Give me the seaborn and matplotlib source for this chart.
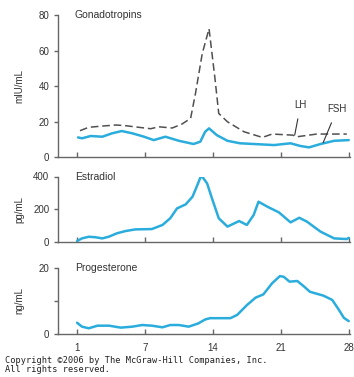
import matplotlib
matplotlib.use('Agg')
import matplotlib.pyplot as plt
import seaborn as sns

# x positions are evenly spaced cycle-day positions (tick labels 1, 7, 14, 21, 28)
lh_day = [0.3, 1.2, 2.6, 4.0, 5.0, 6.35, 7.6, 8.4, 9.8, 10.8, 11.7, 12.2, 12.9, 13.6,
          14.2, 14.6, 15.5, 17.2, 19.1, 20.1, 22.2, 22.7, 24.7, 27.8]
lh_val = [15.1, 17.0, 17.7, 18.3, 17.9, 17.0, 16.2, 17.3, 16.6, 18.8, 22.0, 36.0, 58.5, 72.5,
          45.0, 24.8, 20.1, 14.5, 11.3, 13.2, 12.6, 11.7, 13.2, 13.2]

fsh_day = [0.1, 0.5, 1.4, 2.6, 3.6, 4.6, 5.7, 6.9, 7.9, 9.1, 10.5, 12.0, 12.7, 13.2, 13.6,
           14.4, 15.5, 16.8, 18.2, 20.3, 22.0, 23.0, 23.9, 25.1, 26.5, 28.0]
fsh_val = [11.3, 10.8, 12.1, 11.7, 13.6, 14.9, 13.6, 11.7, 9.8, 11.7, 9.4, 7.6, 8.9, 14.5, 16.4,
           12.6, 9.4, 8.0, 7.6, 7.0, 8.0, 6.5, 5.7, 7.6, 9.4, 9.8]

e2_day = [0.0, 0.5, 1.2, 1.9, 2.6, 3.3, 4.1, 5.0, 6.0, 7.7, 8.8, 9.6, 10.3, 11.2, 11.9, 12.4,
          12.7, 12.9, 13.4, 13.9, 14.6, 15.5, 16.7, 17.5, 18.2, 18.7, 19.6, 20.8, 22.0, 22.9,
          23.7, 25.1, 26.5, 27.8, 28.0]
e2_val = [6, 22, 32, 29, 22, 33, 53, 67, 77, 79, 104, 145, 205, 230, 277, 348,
          393, 399, 358, 267, 145, 94, 128, 104, 165, 246, 216, 181, 120, 148,
          124, 63, 22, 18, 25]

p4_day = [0.0, 0.5, 1.2, 2.1, 3.3, 4.5, 5.7, 6.7, 7.7, 8.8, 9.6, 10.5, 11.5, 12.5, 13.2,
          13.7, 15.8, 16.5, 17.5, 18.4, 19.2, 20.1, 20.9, 21.3, 21.9, 22.7, 23.4, 24.0,
          25.4, 26.3, 27.0, 27.5, 28.0]
p4_val = [3.3, 2.1, 1.6, 2.4, 2.4, 1.8, 2.1, 2.6, 2.4, 1.9, 2.6, 2.6, 2.1, 3.1, 4.3,
          4.7, 4.7, 5.7, 8.7, 11.0, 12.0, 15.4, 17.6, 17.4, 15.9, 16.1, 14.4, 12.8,
          11.6, 10.3, 7.2, 4.8, 3.8]

tick_pos = [0, 7, 14, 21, 28]
tick_lab = ['1', '7', '14', '21', '28']

blue = '#2aaddc'
gray = '#505050'
txt = '#333333'

sns.set_style('white')
plt.rcParams['font.family'] = ['Liberation Sans', 'DejaVu Sans']

fig = plt.figure(figsize=(3.54, 3.77), dpi=100)

W = 354.0
H = 377.0
left = 57.7 / W
width = 292.0 / W

def make_ax(top_px, bot_px):
    return fig.add_axes([left, 1 - bot_px / H, width, (bot_px - top_px) / H])

ax1 = make_ax(15.4, 157.5)
ax2 = make_ax(176.5, 242.0)
ax3 = make_ax(268.3, 333.5)

sns.lineplot(x=lh_day, y=lh_val, ax=ax1, color=gray, lw=1.1, estimator=None)
ax1.lines[-1].set_dashes((5, 2.5))
sns.lineplot(x=fsh_day, y=fsh_val, ax=ax1, color=blue, lw=1.8, estimator=None)
sns.lineplot(x=e2_day, y=e2_val, ax=ax2, color=blue, lw=1.8, estimator=None)
sns.lineplot(x=p4_day, y=p4_val, ax=ax3, color=blue, lw=1.8, estimator=None)

panels = [
    (ax1, (0, 80), [0, 20, 40, 60, 80], ['0', '20', '40', '60', '80'], 'mIU/mL', 'Gonadotropins'),
    (ax2, (0, 400), [0, 200, 400], ['0', '200', '400'], 'pg/mL', 'Estradiol'),
    (ax3, (0, 20), [0, 10, 20], ['0', '', '20'], 'ng/mL', 'Progesterone'),
]

for ax, ylim, yt, ytl, ylab, title in panels:
    ax.set_xlim(-2, 28.1)
    ax.set_ylim(*ylim)
    ax.set_yticks(yt)
    ax.set_yticklabels(ytl)
    ax.set_xticks(tick_pos)
    ax.set_xticklabels(tick_lab if ax is ax3 else [])
    for s in ['top', 'right']:
        ax.spines[s].set_visible(False)
    for s in ['left', 'bottom']:
        ax.spines[s].set_color('#666666')
        ax.spines[s].set_linewidth(1.0)
    ax.tick_params(axis='y', direction='out', length=3, width=1.0, color='#666666',
                   labelsize=7, labelcolor=txt, pad=3, left=True)
    ax.tick_params(axis='x', direction='in', length=3.5, width=1.0, color='#666666',
                   labelsize=7, labelcolor=txt, pad=7, bottom=True)
    ax.set_ylabel(ylab, fontsize=7, color=txt)
    ax.yaxis.set_label_coords(-0.115, 0.5)
    ax.set_xlabel('')
    ax.text(0.059, 1.0, title, transform=ax.transAxes, fontsize=7.5, color=txt,
            ha='left', va='center')

ax1.annotate('LH', xy=(22.43, 12.6), xytext=(23.03, 29.5), fontsize=7, color=txt,
             ha='center', va='center',
             arrowprops=dict(arrowstyle='-', color=txt, lw=0.8, shrinkA=4, shrinkB=0))
ax1.annotate('FSH', xy=(25.36, 8.3), xytext=(26.8, 27.1), fontsize=7, color=txt,
             ha='center', va='center',
             arrowprops=dict(arrowstyle='-', color=txt, lw=0.8, shrinkA=4, shrinkB=0))

fig.text(5 / W, 1 - 365 / H, 'Copyright \u00a92006 by The McGraw-Hill Companies, Inc.\nAll rights reserved.',
         fontsize=6.2, family='DejaVu Sans Mono', color='#222222', ha='left', va='center',
         linespacing=1.05)

fig.savefig('out.png', dpi=100)
